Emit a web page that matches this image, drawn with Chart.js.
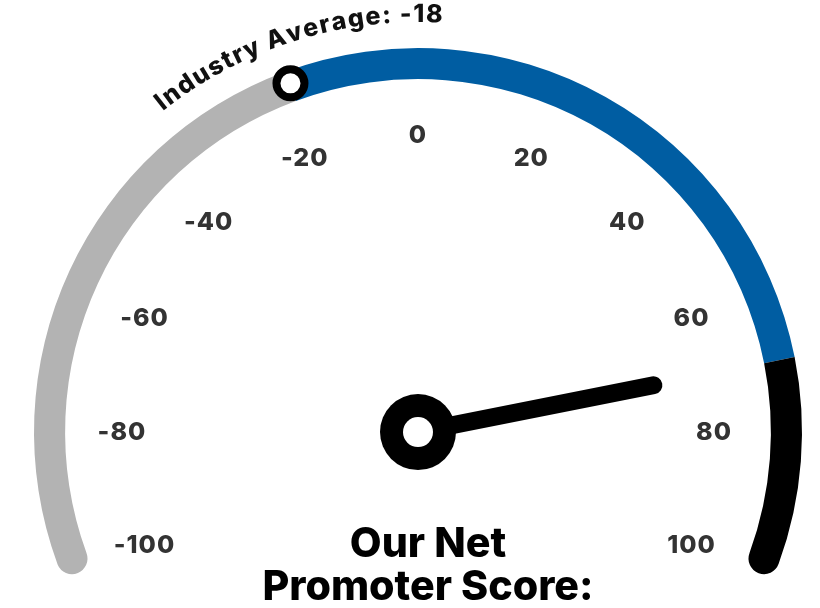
<!DOCTYPE html>
<html>
<head>
<meta charset="utf-8">
<script src="https://cdn.jsdelivr.net/npm/chart.js@4.4.0/dist/chart.umd.min.js"></script>
<style>
  html, body { margin: 0; padding: 0; background: #ffffff; }
  #wrap { width: 820px; height: 608px; position: relative; }
</style>
</head>
<body>
<div id="wrap"><canvas id="gauge" width="820" height="608"></canvas></div>
<script>
// Gauge scale and readings
const scaleMin = -100;
const scaleMax = 100;
const tickValues = [-100, -80, -60, -40, -20, 0, 20, 40, 60, 80, 100];
const industryAverage = -18;
const topBandStart = 70;
const ourScore = 70;
const bandNames = ['Below industry average', 'Above industry average', 'Top band'];
const bandColors = ['#b3b3b3', '#005da2', '#000000'];
const averageLabel = 'Industry Average: ' + industryAverage;
const titleLines = ['Our Net', 'Promoter Score:'];

// Band widths along the dial, built from the values above
const bandSizes = [industryAverage - scaleMin, topBandStart - industryAverage, scaleMax - topBandStart];
const SWEEP = 225; // degrees covered by the dial
const FONT = 'Inter';

const gaugeDecor = {
  id: 'gaugeDecor',
  afterDatasetsDraw(chart) {
    const meta = chart.getDatasetMeta(0);
    const first = meta.data[0];
    const last = meta.data[meta.data.length - 1];
    const cx = first.x, cy = first.y;
    const R = first.outerRadius, r = first.innerRadius;
    const a0 = first.startAngle, a1 = last.endAngle;
    const angleOf = v => a0 + (v - scaleMin) / (scaleMax - scaleMin) * (a1 - a0);
    const ctx = chart.ctx;

    // Tick labels inside the dial
    ctx.save();
    ctx.font = '800 25px ' + FONT;
    ctx.letterSpacing = '1px';
    ctx.fillStyle = '#333333';
    ctx.textAlign = 'center';
    ctx.textBaseline = 'middle';
    const rl = R * 0.771;
    tickValues.forEach(v => {
      const a = angleOf(v);
      ctx.fillText(String(v), cx + rl * Math.cos(a), cy + rl * Math.sin(a));
    });
    ctx.restore();

    // Industry average marker on the ring
    ctx.save();
    const am = angleOf(industryAverage);
    const rm = (R + r) / 2;
    ctx.beginPath();
    ctx.arc(cx + rm * Math.cos(am), cy + rm * Math.sin(am) - 3, 14, 0, Math.PI * 2);
    ctx.fillStyle = '#ffffff';
    ctx.fill();
    ctx.lineWidth = 8;
    ctx.strokeStyle = '#000000';
    ctx.stroke();
    ctx.restore();

    // Curved caption above the marker
    ctx.save();
    ctx.font = '800 25px ' + FONT;
    ctx.fillStyle = '#111111';
    ctx.textAlign = 'center';
    ctx.textBaseline = 'alphabetic';
    const rt = R + 26;
    const chars = averageLabel.split('');
    const widths = chars.map(c => ctx.measureText(c).width);
    const total = widths.reduce((s, w) => s + w, 0);
    const targetLen = 300;
    const gap = (targetLen - total) / (chars.length - 1);
    const span = targetLen / rt;
    let pos = am + 2.7 * Math.PI / 180 - span / 2;
    chars.forEach((c, i) => {
      const ang = pos + (widths[i] / 2) / rt;
      ctx.save();
      ctx.translate(cx, cy);
      ctx.rotate(ang + Math.PI / 2);
      ctx.fillText(c, 0, -rt);
      ctx.restore();
      pos += (widths[i] + gap) / rt;
    });
    ctx.restore();

    // Needle
    ctx.save();
    const an = angleOf(ourScore);
    const L = R * 0.625;
    ctx.beginPath();
    ctx.moveTo(cx, cy);
    ctx.lineTo(cx + L * Math.cos(an), cy + L * Math.sin(an));
    ctx.lineWidth = 18;
    ctx.lineCap = 'round';
    ctx.strokeStyle = '#000000';
    ctx.stroke();
    ctx.beginPath();
    ctx.arc(cx, cy, 38, 0, Math.PI * 2);
    ctx.fillStyle = '#000000';
    ctx.fill();
    ctx.beginPath();
    ctx.arc(cx, cy, 15, 0, Math.PI * 2);
    ctx.fillStyle = '#ffffff';
    ctx.fill();
    ctx.restore();

    // Title under the needle
    ctx.save();
    ctx.fillStyle = '#000000';
    ctx.textAlign = 'center';
    ctx.textBaseline = 'alphabetic';
    ctx.font = '800 36px ' + FONT;
    const w = ctx.measureText(titleLines[1]).width;
    const size = 36 * 331 / w;
    ctx.font = '800 ' + size.toFixed(1) + 'px ' + FONT;
    ctx.fillText(titleLines[0], cx + 10, cy + 125);
    ctx.fillText(titleLines[1], cx + 10, cy + 168);
    ctx.restore();
  }
};

new Chart(document.getElementById('gauge'), {
  type: 'doughnut',
  data: {
    labels: bandNames,
    datasets: [{
      data: bandSizes,
      backgroundColor: bandColors,
      borderWidth: 0,
      hoverOffset: 0,
      borderRadius: c => c.dataIndex === 0
        ? { outerStart: 16, innerStart: 16, outerEnd: 0, innerEnd: 0 }
        : c.dataIndex === 2
          ? { outerStart: 0, innerStart: 0, outerEnd: 16, innerEnd: 16 }
          : 0
    }]
  },
  options: {
    responsive: false,
    animation: false,
    events: [],
    rotation: -SWEEP / 2,
    circumference: SWEEP,
    cutout: '91.9%',
    layout: { padding: { left: 34, right: 18, top: 48, bottom: 29 } },
    plugins: { legend: { display: false }, tooltip: { enabled: false } }
  },
  plugins: [gaugeDecor]
});
</script>
</body>
</html>
